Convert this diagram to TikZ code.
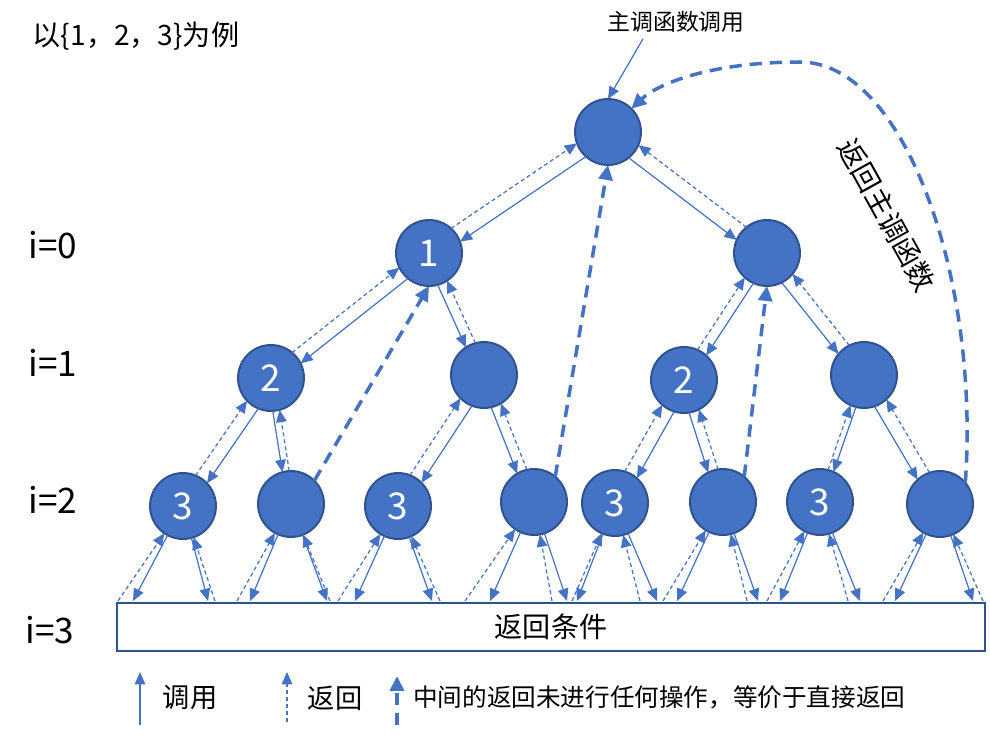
\documentclass[tikz,border=0pt]{standalone}
\usepackage{fontspec}
\setmainfont{Noto Sans CJK SC}
\usetikzlibrary{arrows.meta,calc}
\definecolor{nodeblue}{RGB}{68,114,196}
\definecolor{rimblue}{RGB}{47,82,143}
\tikzset{
  callnode/.style={circle,fill=nodeblue,draw=rimblue,line width=1.1pt,
    minimum size=1.32cm,inner sep=0pt,outer sep=0pt,text=white,
    font=\fontsize{21}{24}\selectfont},
  call/.style={nodeblue,line width=0.7pt,-{Triangle[length=7pt,width=6pt]}},
  ret/.style={call,dash pattern=on 2.3pt off 1.7pt},
  direct/.style={nodeblue,line width=2pt,dash pattern=on 7pt off 4.5pt,
    -{Triangle[length=8.5pt,width=8pt]}},
  lvl/.style={font=\fontsize{20}{24}\selectfont},
}
\newcommand{\rr}{0.66cm}
% call down and return up, side by side
\newcommand{\callret}[3]{%
  \pgfmathsetmacro{\ang}{#3}%
  \pgfmathsetmacro{\nang}{-1*(#3)}%
  \draw[call] ($(#1)!\rr!\ang:(#2)$) -- ($(#2)!\rr!\nang:(#1)$);%
  \draw[ret] ($(#2)!\rr!\ang:(#1)$) -- ($(#1)!\rr!\nang:(#2)$);%
}
% leaf down to the base and back
\newcommand{\leafret}[5]{%
  \coordinate (#1ls) at (#2,601);%
  \coordinate (#1ld) at (#3,601);%
  \coordinate (#1rs) at (#4,601);%
  \coordinate (#1rd) at (#5,601);%
  \draw[call] ($(#1)!\rr!(#1ls)$) -- (#1ls);%
  \draw[ret] (#1ld) -- ($(#1)!\rr!(#1ld)$);%
  \draw[call] ($(#1)!\rr!(#1rs)$) -- (#1rs);%
  \draw[ret] (#1rd) -- ($(#1)!\rr!(#1rd)$);%
}
\begin{document}
\begin{tikzpicture}[x=0.02cm,y=-0.02cm]
  \useasboundingbox (0,0) rectangle (990,734);

  \node[font=\fontsize{16}{19}\selectfont] (title) at (136,36) {以\{1，2，3\}为例};
  \node[font=\fontsize{13}{16}\selectfont] (caller) at (676,22) {主调函数调用};

  % levels
  \node[lvl] (lv0) at (53,245) {i=0};
  \node[lvl] (lv1) at (53,363) {i=1};
  \node[lvl] (lv2) at (53,500) {i=2};
  \node[lvl] (lv3) at (50,630) {i=3};

  \node[draw=rimblue,line width=1.1pt,fill=white,minimum width=17.36cm,
    minimum height=0.96cm,inner sep=0pt,font=\fontsize{16}{19}\selectfont]
    (base) at (551,627) {返回条件};

  % call tree
  \node[callnode] (R) at (608,132) {};
  \node[callnode] (A) at (429,253) {1};
  \node[callnode] (B) at (767,253) {};
  \node[callnode] (C) at (271,378) {2};
  \node[callnode] (D) at (484,375) {};
  \node[callnode] (E) at (684,380) {2};
  \node[callnode] (F) at (864,375) {};
  \node[callnode] (G) at (183,506) {3};
  \node[callnode] (H) at (291,504) {};
  \node[callnode] (I) at (398,506) {3};
  \node[callnode] (J) at (534,502) {};
  \node[callnode] (K) at (615,503) {3};
  \node[callnode] (L) at (723,502) {};
  \node[callnode] (M) at (820,502) {3};
  \node[callnode] (N) at (940,504) {};

  \draw[call] ([xshift=-0.66cm]caller.south) -- (R.north);

  \callret{R}{A}{14}
  \callret{R}{B}{-14}
  \callret{A}{C}{12}
  \callret{A}{D}{-9}
  \callret{B}{E}{9}
  \callret{B}{F}{-12}
  \callret{C}{G}{12}
  \callret{C}{H}{-6}
  \callret{D}{I}{12}
  \callret{D}{J}{-9}
  \callret{E}{K}{12}
  \callret{E}{L}{-9}
  \callret{F}{M}{5}
  \callret{F}{N}{-12}

  \leafret{G}{133}{118}{208}{215}
  \leafret{H}{250}{237}{327}{330}
  \leafret{I}{355}{338}{432}{440}
  \leafret{J}{490}{465}{567}{552}
  \leafret{K}{577}{572}{657}{640}
  \leafret{L}{677}{663}{758}{747}
  \leafret{M}{780}{767}{860}{848}
  \leafret{N}{895}{883}{973}{983}

  % returns that skip straight up
  \draw[direct] (H.45) -- (A.south);
  \draw[direct] (J.50) -- (R.south);
  \draw[direct] (L.50) -- (B.south);
  \coordinate (arctop) at (800,62);
  \draw[direct] (N.40) .. controls (980,280) and (905,62) .. (arctop)
    .. controls (715,62) and (660,82) .. (R.45);
  \node[font=\fontsize{16}{19}\selectfont,rotate=-61] (backlbl) at (887,215) {返回主调函数};

  % legend
  \coordinate (lca) at (140,725);
  \coordinate (lcb) at (140,672);
  \coordinate (lra) at (287,722);
  \coordinate (lrb) at (287,672);
  \coordinate (lda) at (397,725);
  \coordinate (ldb) at (397,676);
  \draw[call] (lca) -- (lcb);
  \draw[ret] (lra) -- (lrb);
  \draw[direct] (lda) -- (ldb);
  \node[font=\fontsize{15.5}{18}\selectfont] (legcall) at (190,698) {调用};
  \node[font=\fontsize{15.5}{18}\selectfont] (legret) at (335,698) {返回};
  \node[font=\fontsize{14}{17}\selectfont,anchor=west,inner sep=0pt] (legdirect) at (413,697)
    {中间的返回未进行任何操作，等价于直接返回};
\end{tikzpicture}
\end{document}
